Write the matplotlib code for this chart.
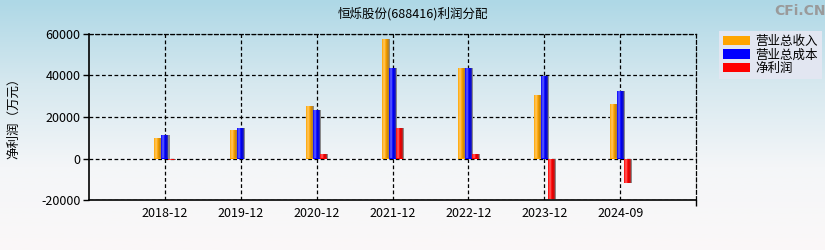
import numpy as np
import matplotlib
matplotlib.use('Agg')
import matplotlib.pyplot as plt
from matplotlib.colors import LinearSegmentedColormap, to_rgb
from matplotlib.patches import Patch

plt.rcParams['font.family'] = ['Liberation Sans Narrow', 'Noto Sans CJK SC', 'DejaVu Sans']

categories = ['2018-12', '2019-12', '2020-12', '2021-12', '2022-12', '2023-12', '2024-09']
revenue = [10100, 13500, 25500, 57800, 43400, 30800, 26500]
cost = [11100, 14900, 23600, 43400, 43400, 39700, 32300]
profit = [-500, -300, 2400, 14900, 2400, -19300, -12000]
series_names = ['营业总收入', '营业总成本', '净利润']
colors = ['#FFA500', '#0000FF', '#FF0000']
yticks = [-20000, 0, 20000, 40000, 60000]

fig = plt.figure(figsize=(8.25, 2.5), dpi=100)

# background gradient
bg = fig.add_axes([0, 0, 1, 1], zorder=-10)
grad = np.linspace(0, 1, 256).reshape(-1, 1)
cmap_bg = LinearSegmentedColormap.from_list('bg', ['#aed8e6', '#d6e8ef', '#f4f6f8', '#fbf8f8'])
bg.imshow(grad, aspect='auto', cmap=cmap_bg, extent=[0, 1, 0, 1], origin='upper')
bg.axis('off')

ax = fig.add_axes([89/825, 50/250, 607/825, 166/250])
ax.patch.set_alpha(0)
x = np.arange(len(categories))
w = 0.092


def shade(c):
    r = np.array(to_rgb(c))
    light = r + (1 - r) * 0.4
    gray = np.array([0.5, 0.5, 0.5])
    dark = r * 0.45 + gray * 0.45
    return LinearSegmentedColormap.from_list(
        's', [(0, r), (0.3, light), (0.55, r), (0.75, r * 0.85), (1, dark)])


for i, (vals, c) in enumerate(zip([revenue, cost, profit], colors)):
    pos = x + (i - 1) * w
    ax.bar(pos + 0.015, vals, w, color='#8a8a8a', zorder=2, linewidth=0)
    bars = ax.bar(pos, vals, w, color=c, zorder=3, linewidth=0)
    cm = shade(c)
    for b in bars:
        x0, y0 = b.get_x(), b.get_y()
        bw, bh = b.get_width(), b.get_height()
        im = ax.imshow(np.linspace(0, 1, 64).reshape(1, -1), cmap=cm, aspect='auto',
                       extent=[x0, x0 + bw, y0, y0 + bh], zorder=4)
        im.set_clip_path(b)

ax.set_xlim(-1, 7)
ax.set_ylim(-20000, 60000)
ax.set_xticks(x)
ax.set_xticklabels(categories, fontsize=9)
ax.set_yticks(yticks)
ax.set_yticklabels([str(v) for v in yticks], fontsize=9)
ax.set_xticks([7], minor=True)
ax.tick_params(axis='x', which='major', length=0, pad=5)
ax.tick_params(axis='x', which='minor', length=4, width=1, direction='out')
ax.tick_params(axis='y', length=4, width=1, direction='out', pad=2)
ax.grid(True, color='black', linestyle=(0, (3, 2)), linewidth=0.9, zorder=1)
ax.set_axisbelow(True)
for s in ['left', 'bottom']:
    ax.spines[s].set_linewidth(1.2)
for s in ['top', 'right']:
    ax.spines[s].set_linestyle((0, (3, 2)))
    ax.spines[s].set_linewidth(0.9)

fig.text(0.5, 1 - 14/250, '恒烁股份(688416)利润分配', ha='center', va='center', fontsize=9,
         family=['Noto Sans CJK SC', 'DejaVu Sans'])
fig.text(800/825, 1 - 11/250, 'CFi.CN', ha='center', va='center', fontsize=10,
         color='#9a9a9a', fontweight='bold', family=['DejaVu Sans'])
fig.text(14/825, 1 - 115/250, '净利润（万元）', rotation=90, ha='center', va='center', fontsize=9,
         family=['Noto Sans CJK SC', 'DejaVu Sans'])

handles = [Patch(facecolor=c, edgecolor='none') for c in colors]
leg = fig.legend(handles, series_names, loc='upper left', bbox_to_anchor=(719/825, 1 - 31/250),
                 fontsize=9, frameon=True, fancybox=False, handlelength=2.2, handleheight=0.8,
                 handletextpad=0.4, labelspacing=0.05, borderpad=0.3, borderaxespad=0,
                 prop={'family': ['Noto Sans CJK SC', 'DejaVu Sans'], 'size': 9})
leg.get_frame().set_facecolor('#e2e6f1')
leg.get_frame().set_edgecolor('none')
leg.get_frame().set_alpha(1)

fig.savefig('out.png', dpi=100)
